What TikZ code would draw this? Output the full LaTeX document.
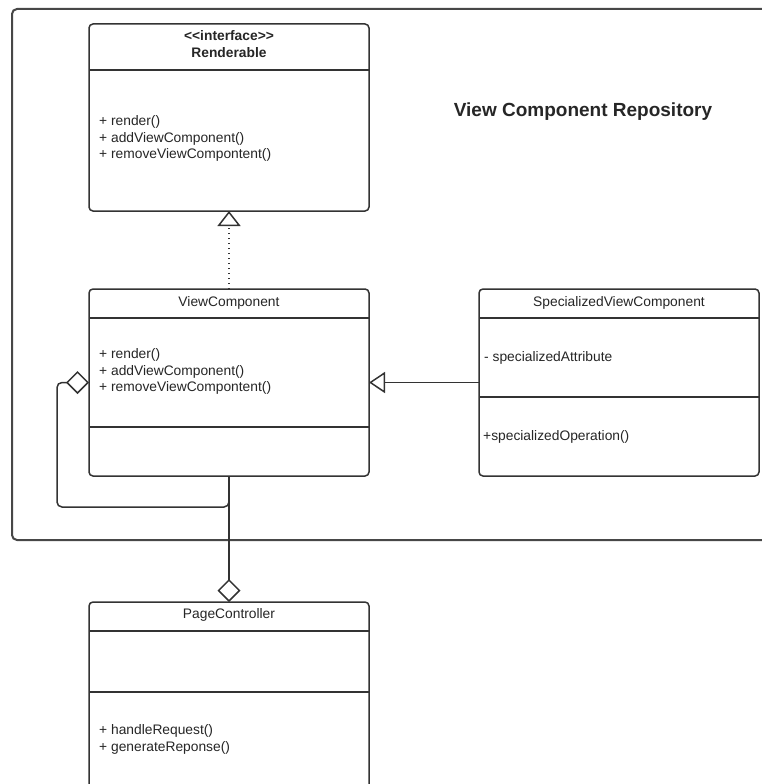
\documentclass[tikz,border=0pt]{standalone}
\usepackage{fontspec}
\setmainfont{Liberation Sans}
\usetikzlibrary{arrows.meta}
\definecolor{ink}{HTML}{333333}
\definecolor{framecol}{HTML}{474747}
\definecolor{txt}{HTML}{262626}

\begin{document}
\begin{tikzpicture}[x=1pt,y=-1pt,
  classbox/.style={draw=ink, line width=1.5pt, rounded corners=4pt, fill=white,
    anchor=north west, minimum width=280pt, inner sep=0pt, outer sep=0pt},
  divider/.style={draw=ink, line width=1.5pt},
  lbl/.style={text=txt, inner sep=0pt, anchor=base, font=\fontsize{13.8}{16.6}\selectfont},
  member/.style={lbl, anchor=base west},
  link/.style={draw=ink, line width=1.5pt},
  realizes/.style={link, dash pattern=on 1.5pt off 3.5pt,
    -{Triangle[open, length=15pt, width=23pt]}},
  inherits/.style={link, -{Triangle[open, length=16pt, width=21pt]}},
  aggregates/.style={link, {Diamond[open, length=23pt, width=23pt]}-}
]
\useasboundingbox (0,0) rectangle (762,784);
\clip (0,0) rectangle (762,784);

% package frame
\node[draw=framecol, line width=2pt, rounded corners=5pt, anchor=north west,
      minimum width=789pt, minimum height=531pt, inner sep=0pt] (repo) at (11,8) {};
\node[lbl, font=\fontsize{19}{22}\selectfont\bfseries] (repotitle) at (583,116.5)
  {View Component Repository};

% Renderable interface
\node[classbox, minimum height=187pt] (rend) at (89,24) {};
\draw[divider] ([yshift=-46pt]rend.north west) -- ([yshift=-46pt]rend.north east);
\node[lbl] (rendst) at (229,40.5) {\bfseries <\kern0pt<interface>\kern0pt>};
\node[lbl] (rendname) at (229,58) {\bfseries Renderable};
\node[member] (rendop1) at (99,125.5) {+ render()};
\node[member] (rendop2) at (99,142) {+ addViewComponent()};
\node[member] (rendop3) at (99,158.5) {+ removeViewCompontent()};

% ViewComponent
\node[classbox, minimum height=187pt] (vc) at (89,289) {};
\draw[divider] ([yshift=-29pt]vc.north west) -- ([yshift=-29pt]vc.north east);
\draw[divider] ([yshift=-138pt]vc.north west) -- ([yshift=-138pt]vc.north east);
\node[lbl] (vcname) at (229,306.5) {ViewComponent};
\node[member] (vcop1) at (99,358.5) {+ render()};
\node[member] (vcop2) at (99,375) {+ addViewComponent()};
\node[member] (vcop3) at (99,391.5) {+ removeViewCompontent()};

% SpecializedViewComponent
\node[classbox, minimum height=187pt] (svc) at (479,289) {};
\draw[divider] ([yshift=-29pt]svc.north west) -- ([yshift=-29pt]svc.north east);
\draw[divider] ([yshift=-108pt]svc.north west) -- ([yshift=-108pt]svc.north east);
\node[lbl] (svcname) at (619,306.5) {SpecializedViewComponent};
\node[member] (svcattr) at (484,361.5) {- specializedAttribute};
\node[member] (svcop) at (483,440.5) {+specializedOperation()};

% PageController
\node[classbox, minimum height=220pt] (pc) at (89,602) {};
\draw[divider] ([yshift=-29pt]pc.north west) -- ([yshift=-29pt]pc.north east);
\draw[divider] ([yshift=-90pt]pc.north west) -- ([yshift=-90pt]pc.north east);
\node[lbl] (pcname) at (229,618.5) {PageController};
\node[member] (pcop1) at (99,734.5) {+ handleRequest()};
\node[member] (pcop2) at (99,751.5) {+ generateReponse()};

% relations
\coordinate (loopcorner) at (229,507);
\draw[realizes] (vc.north) -- (rend.south);
\draw[inherits] (svc.west) -- (vc.east);
\draw[aggregates, rounded corners=5pt] (vc.west) -- ++(-32,0) |- (loopcorner) -- (vc.south);
\draw[aggregates] (pc.north) -- (vc.south);
\end{tikzpicture}
\end{document}
